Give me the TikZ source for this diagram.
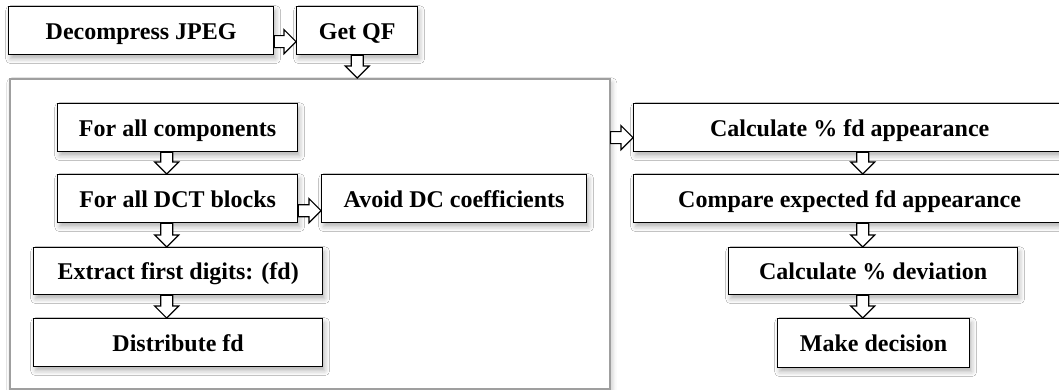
\documentclass[tikz,border=0pt]{standalone}
\usepackage{fontspec}
\setmainfont{Liberation Serif}
\usetikzlibrary{shadows.blur}
\tikzset{
  box/.style={draw=black, line width=1.3pt, fill=white, anchor=north west,
    inner sep=0pt, text height=17pt, text depth=0pt, font=\fontsize{24}{28}\selectfont\bfseries,
    blur shadow={shadow xshift=2pt, shadow yshift=-4pt, shadow blur radius=5pt, shadow opacity=30}},
  frame/.style={draw=gray!75, line width=1.6pt, fill=white, anchor=north west, inner sep=0pt,
    blur shadow={shadow xshift=2pt, shadow yshift=-4pt, shadow blur radius=5pt, shadow opacity=25}},
  blockarr/.style={draw=black, line width=1.2pt, fill=white, line join=miter},
}
\newcommand{\harr}[3]{\draw[blockarr] ([yshift=#3+6pt]#1) -- ([yshift=#3+6pt,xshift=-12pt]#2) -- ([yshift=#3+12pt,xshift=-12pt]#2) -- ([yshift=#3]#2) -- ([yshift=#3-12pt,xshift=-12pt]#2) -- ([yshift=#3-6pt,xshift=-12pt]#2) -- ([yshift=#3-6pt]#1) -- cycle;}
\newcommand{\varr}[2]{\draw[blockarr] ([xshift=-6pt]#1) -- ([xshift=-6pt,yshift=12pt]#2) -- ([xshift=-12pt,yshift=12pt]#2) -- (#2) -- ([xshift=12pt,yshift=12pt]#2) -- ([xshift=6pt,yshift=12pt]#2) -- ([xshift=6pt]#1) -- cycle;}
\begin{document}
\begin{tikzpicture}[x=1pt,y=-1pt]
\useasboundingbox[fill=white] (0,0) rectangle (1059,390);
% top row
\node[box, minimum width=265pt, minimum height=48pt] (dec) at (8,6) {Decompress JPEG};
\node[box, minimum width=121pt, minimum height=48pt] (qf) at (296,6) {Get QF};
% container
\node[frame, minimum width=600pt, minimum height=310pt] (cont) at (9,78) {};
% left column
\node[box, minimum width=240pt, minimum height=48pt] (comp) at (57,103) {For all components};
\node[box, minimum width=240pt, minimum height=48pt] (dct) at (57,174) {For all DCT blocks};
\node[box, minimum width=265pt, minimum height=48pt] (avoid) at (321,174) {Avoid DC coefficients};
\node[box, minimum width=289pt, minimum height=47pt] (extr) at (33,247) {Extract first digits: (fd)};
\node[box, minimum width=289pt, minimum height=48pt] (dist) at (33,318) {Distribute fd};
% right column
\node[box, minimum width=432pt, minimum height=48pt] (calc) at (633,103) {Calculate \% fd appearance};
\node[box, minimum width=432pt, minimum height=48pt] (cmp) at (633,174) {Compare expected fd appearance};
\node[box, minimum width=289pt, minimum height=47pt] (dev) at (728,247) {Calculate \% deviation};
\node[box, minimum width=192pt, minimum height=49pt] (mk) at (777,318) {Make decision};
% coordinates for arrows
\coordinate (v0a) at (qf.south);
\coordinate (v0b) at (qf.south |- cont.north);
\coordinate (v1a) at ([xshift=-11pt]comp.south);
\coordinate (v1b) at (v1a |- dct.north);
\coordinate (v2a) at (v1a |- dct.south);
\coordinate (v2b) at (v1a |- extr.north);
\coordinate (v3a) at (v1a |- extr.south);
\coordinate (v3b) at (v1a |- dist.north);
\coordinate (r1a) at ([xshift=13pt]calc.south);
\coordinate (r1b) at (r1a |- cmp.north);
\coordinate (r2a) at (r1a |- cmp.south);
\coordinate (r2b) at (r1a |- dev.north);
\coordinate (r3a) at (r1a |- dev.south);
\coordinate (r3b) at (r1a |- mk.north);
\coordinate (ce) at (cont.east |- calc.west);
% arrows
\harr{dec.east}{qf.west}{-11pt}
\harr{dct.east}{avoid.west}{-12pt}
\harr{ce}{calc.west}{-10pt}
\varr{v0a}{v0b}
\varr{v1a}{v1b}
\varr{v2a}{v2b}
\varr{v3a}{v3b}
\varr{r1a}{r1b}
\varr{r2a}{r2b}
\varr{r3a}{r3b}
\end{tikzpicture}
\end{document}
